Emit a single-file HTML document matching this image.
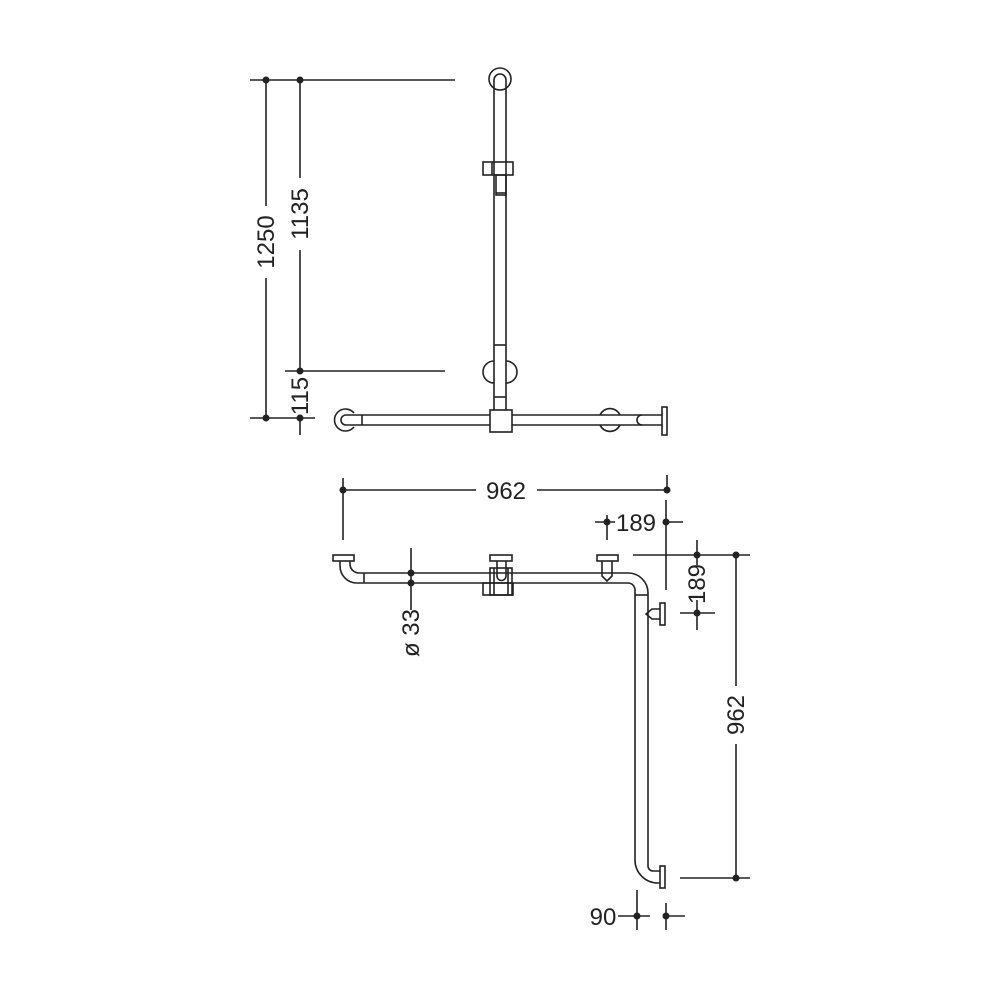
<!DOCTYPE html>
<html><head><meta charset="utf-8"><style>
html,body{margin:0;padding:0;background:#fff;}
svg{display:block}
text{font-family:"Liberation Sans",sans-serif;font-size:24px;fill:#222}
</style></head><body>
<svg width="1000" height="1000" viewBox="0 0 1000 1000" xmlns="http://www.w3.org/2000/svg">
<g stroke="#222" stroke-width="1.6" fill="none">
<line x1="250" y1="80" x2="455" y2="80"/>
<line x1="285" y1="371" x2="445" y2="371"/>
<line x1="250" y1="418" x2="315" y2="418"/>
<line x1="266" y1="80" x2="266" y2="206"/>
<line x1="266" y1="278" x2="266" y2="418"/>
<line x1="300" y1="80" x2="300" y2="178"/>
<line x1="300" y1="250" x2="300" y2="371"/>
<line x1="300" y1="418" x2="300" y2="435"/>
<path d="M494 80 A6 6 0 0 1 506 80 L506 410 M494 80 L494 410"/>
<circle cx="500" cy="79" r="11"/>
<rect x="483" y="162" width="30" height="13"/>
<line x1="492" y1="162" x2="492" y2="175"/>
<rect x="496" y="175" width="10" height="20"/>
<line x1="496" y1="193" x2="506" y2="193"/>
<line x1="494" y1="345" x2="506" y2="345"/>
<path d="M494 361 A11 11 0 0 0 494 383 M506 361 A11 11 0 0 1 506 383"/>
<line x1="494" y1="397" x2="506" y2="397"/>
<rect x="490" y="410" width="22" height="22"/>
<path d="M490 415 L362 415 M490 425 L362 425 M362 415 L362 425"/>
<path d="M362 415 L346 415 A5 5 0 0 0 346 425 L362 425"/>
<path d="M354 413 A11 11 0 1 0 354 427"/>
<path d="M512 415 L662 415 M512 425 L662 425"/>
<path d="M600 415 A11 11 0 0 1 620 415 M600 425 A11 11 0 0 0 620 425"/>
<path d="M642 415 A5 5 0 0 0 642 425"/>
<rect x="662" y="407" width="5" height="28"/>
<line x1="343" y1="478" x2="343" y2="540"/>
<line x1="343" y1="490" x2="476" y2="490"/>
<line x1="537" y1="490" x2="667" y2="490"/>
<line x1="667" y1="475" x2="667" y2="492"/>
<line x1="595" y1="522" x2="615" y2="522"/>
<line x1="607" y1="515" x2="607" y2="540"/>
<line x1="666" y1="500" x2="666" y2="590"/>
<line x1="666" y1="522" x2="683" y2="522"/>
<line x1="633" y1="555" x2="750" y2="555"/>
<line x1="697" y1="540" x2="697" y2="565"/>
<line x1="680" y1="613" x2="715" y2="613"/>
<line x1="697" y1="600" x2="697" y2="630"/>
<line x1="736" y1="555" x2="736" y2="686"/>
<line x1="736" y1="744" x2="736" y2="878"/>
<line x1="680" y1="878" x2="750" y2="878"/>
<line x1="618" y1="916" x2="650" y2="916"/>
<line x1="637" y1="890" x2="637" y2="930"/>
<line x1="666" y1="903" x2="666" y2="930"/>
<line x1="666" y1="916" x2="685" y2="916"/>
<line x1="411" y1="548" x2="411" y2="610"/>
<rect x="333" y="555" width="21" height="6"/>
<path d="M340 561 L340 566 A17 17 0 0 0 357 583 L364 583 M350 561 L350 564 A9 9 0 0 0 359 573 L364 573"/>
<line x1="364" y1="573" x2="364" y2="583"/>
<path d="M364 573 L628 573 A20 20 0 0 1 648 593 L648 866 A5 5 0 0 0 653 871 L660 871"/>
<path d="M364 583 L628 583 A7 7 0 0 1 635 590 L635 860 A23 23 0 0 0 658 883 L660 883"/>
<line x1="635" y1="595" x2="648" y2="595"/>
<rect x="660" y="866" width="5" height="22"/>
<rect x="490" y="555" width="22" height="6"/>
<path d="M497 561 L497 576 A4.5 4.5 0 0 0 506 576 L506 561"/>
<rect x="483" y="583" width="30" height="12"/>
<rect x="490" y="568" width="22" height="27"/>
<line x1="494" y1="568" x2="494" y2="595"/>
<line x1="508" y1="568" x2="508" y2="595"/>
<rect x="597" y="555" width="21" height="6"/>
<path d="M602 561 L602 576 L607 581 L612 576 L612 561"/>
<rect x="660" y="603" width="5" height="22"/>
<path d="M660 609 L652 609 L646 614 L652 619 L660 619"/>
</g>
<g fill="#222">
<circle cx="266" cy="80" r="3.5"/><circle cx="300" cy="80" r="3.5"/>
<circle cx="300" cy="371" r="3.5"/><circle cx="266" cy="418" r="3.5"/>
<circle cx="300" cy="418" r="3.5"/>
<circle cx="343" cy="490" r="3.5"/><circle cx="667" cy="490" r="3.5"/>
<circle cx="607" cy="522" r="3.5"/><circle cx="666" cy="522" r="3.5"/>
<circle cx="697" cy="555" r="3.5"/><circle cx="736" cy="555" r="3.5"/>
<circle cx="697" cy="613" r="3.5"/><circle cx="736" cy="878" r="3.5"/>
<circle cx="637" cy="916" r="3.5"/><circle cx="666" cy="916" r="3.5"/>
<circle cx="411" cy="573" r="3.5"/><circle cx="411" cy="583" r="3.5"/>
</g>
<text transform="translate(274,242) rotate(-90)" text-anchor="middle">1250</text>
<text transform="translate(308,214) rotate(-90)" text-anchor="middle">1135</text>
<text transform="translate(308,396) rotate(-90)" text-anchor="middle">115</text>
<text x="506" y="499" text-anchor="middle">962</text>
<text x="636" y="531" text-anchor="middle">189</text>
<text transform="translate(705,584) rotate(-90)" text-anchor="middle">189</text>
<text transform="translate(744,715) rotate(-90)" text-anchor="middle">962</text>
<text x="603" y="925" text-anchor="middle">90</text>
<text transform="translate(419,633) rotate(-90)" text-anchor="middle">ø 33</text>
</svg>
</body></html>
